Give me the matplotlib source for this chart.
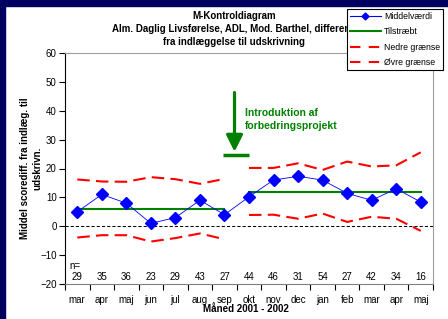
import numpy as np
import matplotlib
matplotlib.use("Agg")
import matplotlib.pyplot as plt
from matplotlib.lines import Line2D
from matplotlib.patches import Rectangle

plt.rcParams['font.family'] = ['Liberation Sans', 'DejaVu Sans']

# --- data ---
maaneder = ["mar", "apr", "maj", "jun", "jul", "aug", "sep",
            "okt", "nov", "dec", "jan", "feb", "mar", "apr", "maj"]
n_antal = [29, 35, 36, 23, 29, 43, 27, 44, 46, 31, 54, 27, 42, 34, 16]
middel = [5, 11, 8, 1, 3, 9, 4, 10.2, 16, 17.3, 16, 11.4, 9, 13, 8.4]
tilstraebt = [6, 6, 6, 6, 6, 6, 6, 12, 12, 12, 12, 12, 12, 12, 12]
nedre = [-3.9, -3.1, -3.1, -5.3, -4.1, -2.5, -4.5,
         3.9, 4.0, 2.6, 4.4, 1.5, 3.3, 2.6, -1.6]
oevre = [16.2, 15.5, 15.4, 17.0, 16.3, 14.7, 16.4,
         20.2, 20.2, 21.8, 19.5, 22.4, 20.7, 21.1, 25.6]
skift = 7  # forbedringsprojekt starter i okt

W, H = 448, 319
fig = plt.figure(figsize=(W / 100, H / 100), dpi=100)
fig.patch.set_facecolor("white")

# mørkeblå kant (venstre + top)
navy = "#000060"
fig.patches.append(Rectangle((0, 0), 5 / W, 1, transform=fig.transFigure, color=navy, zorder=0))
fig.patches.append(Rectangle((0, 1 - 6 / H), 1, 6 / H, transform=fig.transFigure, color=navy, zorder=0))

ax = fig.add_axes([65 / W, 1 - 284 / H, (433 - 65) / W, (284 - 53) / H])
x = np.arange(len(maaneder))

gron = "#008000"
rod = "#ff0000"
blaa = "#0000ff"

ax.axhline(0, color="black", lw=0.75, ls=(0, (3, 2)), zorder=2)

for sl in (slice(0, skift), slice(skift, None)):
    ax.plot(x[sl], np.array(nedre)[sl], color=rod, lw=1.5, ls=(0, (6, 3)), zorder=3)
    ax.plot(x[sl], np.array(oevre)[sl], color=rod, lw=1.5, ls=(0, (6, 3)), zorder=3)
    ax.plot(x[sl], np.array(tilstraebt)[sl], color=gron, lw=1.5, zorder=3)

ax.plot(x, middel, color=blaa, lw=0.6, marker="D", markersize=6.5, zorder=4)

for xi, n in zip(x, n_antal):
    ax.text(xi, -17.6, str(n), ha="center", va="center", fontsize=7)
ax.text(-0.33, -13.8, "n=", ha="left", va="center", fontsize=7)

# pil + tekst
ax.annotate("", xy=(6.41, 25.8), xytext=(6.41, 46.3),
            arrowprops=dict(arrowstyle="-|>,head_length=1.0,head_width=0.5",
                            lw=2.3, color=gron, shrinkA=0, shrinkB=0))
ax.plot([5.92, 7.02], [24.8, 24.8], color=gron, lw=2.5, solid_capstyle="butt")
ax.text(6.82, 37.0, "Introduktion af\nforbedringsprojekt", color=gron, fontsize=7.5,
        fontweight="bold", ha="left", va="center", linespacing=1.35)

ax.set_xlim(-0.5, len(maaneder) - 0.5)
ax.set_ylim(-20, 60)
ax.set_yticks(range(-20, 61, 10))
ax.set_xticks(x)
ax.set_xticklabels(maaneder)
ax.set_xticks(np.arange(-0.5, len(maaneder)), minor=True)
ax.tick_params(axis="x", which="major", length=0, pad=8, labelsize=7)
ax.tick_params(axis="x", which="minor", length=4, width=0.8, direction="out")
ax.tick_params(axis="y", length=4, width=0.8, direction="out", labelsize=7, pad=2)

for s in ("top", "right"):
    ax.spines[s].set_color("#a0a0a0")
ax.spines["bottom"].set_color("#808080")
ax.spines["left"].set_color("black")

fig.text(234 / W, 1 - 29 / H,
         "M-Kontroldiagram\nAlm. Daglig Livsførelse, ADL, Mod. Barthel, differens\nfra indlæggelse til udskrivning",
         ha="center", va="center", fontsize=7, fontweight="bold", linespacing=1.35)
fig.text(31 / W, 1 - 168 / H, "Middel scorediff. fra indlæg. til\nudskrivn.",
         rotation=90, ha="center", va="center", fontsize=7, fontweight="bold", linespacing=1.35)
fig.text(246 / W, 1 - 309 / H, "Måned 2001 - 2002", ha="center", va="center",
         fontsize=7, fontweight="bold")

handles = [
    Line2D([], [], color=blaa, lw=0.8, marker="D", markersize=3.5),
    Line2D([], [], color=gron, lw=1.5),
    Line2D([], [], color=rod, lw=1.5, ls=(0, (5, 4))),
    Line2D([], [], color=rod, lw=1.5, ls=(0, (5, 4))),
]
labels = ["Middelværdi", "Tilstræbt", "Nedre grænse", "Øvre grænse"]
leg = fig.legend(handles, labels, loc="upper left", bbox_to_anchor=(347 / W, 1 - 9 / H),
                 borderaxespad=0, fontsize=6.3, handlelength=3.6, handletextpad=0.3,
                 borderpad=0.3, labelspacing=0.75, fancybox=False, framealpha=1,
                 edgecolor="black")
leg.get_frame().set_linewidth(0.8)
leg.set_zorder(10)

fig.savefig("out.png", dpi=100)
